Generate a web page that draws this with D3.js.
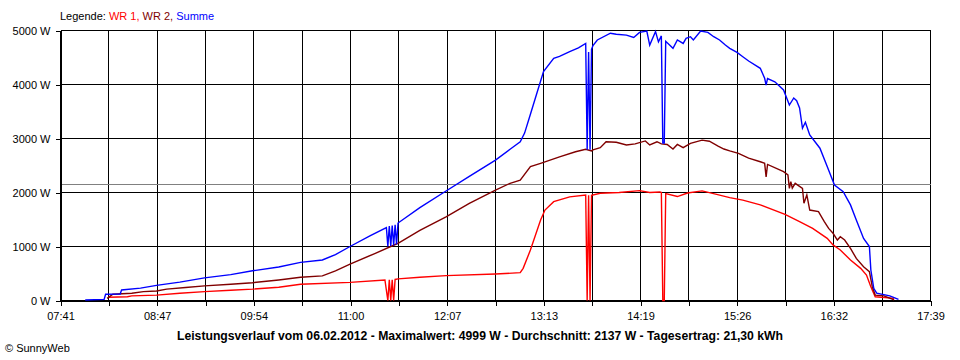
<!DOCTYPE html>
<html><head><meta charset="utf-8">
<script src="https://cdn.jsdelivr.net/npm/d3@7"></script>
<style>
body{margin:0;background:#fff}
svg{display:block}
text{font-family:"Liberation Sans",Arial,sans-serif;font-size:11px;fill:#000}
</style>
</head><body><svg id="c" width="960" height="360"></svg>
<script>
// ---------- data ----------
const timeTickLabels = ["07:41","","08:47","","09:54","","11:00","","12:07","","13:13","","14:19","","15:26","","16:32","","17:39"];
const timeStart = "07:41", timeEnd = "17:39";
const powerTicks = [0,1000,2000,3000,4000,5000];
const powerMax = 5000;
const averagePower = 2137;
const seriesNames = ["WR 1","WR 2","Summe"];
const legendTitle = "Legende: ";
const footerTitle = "Leistungsverlauf vom 06.02.2012 - Maximalwert: 4999 W - Durchschnitt: 2137 W - Tagesertrag: 21,30 kWh";
const copyright = "\u00A9 SunnyWeb";

const wr1 = [
["08:14",60],["08:27",70],["08:30",85],["08:47",100],["09:03",135],["09:20",165],["09:38",190],["09:53",210],["10:11",245],["10:26",300],["11:00",335],["11:24",380],
["11:26",0],["11:27",385],["11:28",0],["11:29",385],["11:30",0],["11:31",390],["11:33",400],
["11:48",430],["12:06",460],["12:40",490],["12:57",515],["12:59",595],["13:04",935],["13:11",1490],["13:14",1675],["13:20",1830],["13:31",1920],["13:42",1955],
["13:43",0],["13:44",1950],["13:45",0],["13:46",1950],["13:52",1985],["14:05",2000],["14:19",2035],["14:26",2000],["14:33",2010],["14:34",2000],
["14:35",0],["14:36",0],["14:37",1980],["14:45",1925],["14:52",1990],["15:02",2030],["15:12",1965],["15:21",1905],["15:30",1860],["15:42",1770],["15:59",1595],["16:09",1460],["16:18",1335],["16:28",1150],["16:32",1030],["16:37",935],["16:44",750],["16:51",595],["16:55",470],["16:58",255],["17:01",70],["17:14",40]
];

const wr2 = [
["08:13",40],["08:17",115],["08:30",135],["08:38",165],["08:47",175],["08:54",210],["09:07",240],["09:20",270],["09:38",300],["09:53",330],["10:11",380],["10:26",430],["10:41",455],["10:50",550],["11:00",675],["11:17",870],["11:33",1060],["11:48",1300],["12:06",1550],["12:22",1800],["12:40",2045],["12:50",2170],["12:57",2230],["13:04",2480],["13:11",2540],["13:24",2660],["13:35",2755],["13:42",2800],["13:46",2770],
["13:47",2790],["13:52",2830],["13:56",2940],["14:03",2930],["14:10",2880],["14:16",2900],["14:23",2955],["14:26",2880],["14:31",2940],["14:34",2900],["14:38",2890],["14:42",2805],["14:45",2890],["14:49",2830],["14:54",2910],["15:02",2970],["15:07",2950],["15:13",2860],["15:17",2805],["15:21",2770],["15:27",2725],["15:34",2635],["15:42",2570],
["15:45",2540],["15:46",2290],["15:47",2520],["15:58",2385],["16:01",2325],["16:02",2075],["16:03",2200],["16:04",2080],["16:06",2170],["16:11",2075],["16:12",1800],["16:14",1955],["16:16",1675],["16:22",1645],["16:26",1460],["16:29",1335],["16:32",1245],["16:35",1120],["16:37",1180],["16:40",1120],["16:44",965],["16:48",780],["16:53",625],["16:57",535],["16:59",255],["17:01",100],["17:07",85],["17:14",10]
];

const summe = [
["07:58",10],["08:11",20],["08:12",115],["08:22",120],["08:23",195],["08:36",230],["08:47",280],["09:03",340],["09:20",420],["09:38",480],["09:53",550],["10:11",620],["10:26",707],["10:41",750],["10:50",850],["11:00",1000],["11:14",1200],["11:25",1350],
["11:26",1000],["11:27",1380],["11:28",1010],["11:29",1390],["11:30",1020],["11:31",1400],["11:32",1040],["11:33",1435],
["11:48",1720],["12:06",2028],["12:22",2300],["12:40",2600],["12:50",2800],["12:57",2940],["13:00",3100],["13:04",3450],["13:08",3800],["13:13",4240],["13:20",4485],["13:24",4520],["13:31",4610],["13:37",4680],["13:42",4760],
["13:43",2790],["13:44",4600],["13:45",2790],["13:46",4650],["13:47",4720],
["13:50",4825],["13:59",4950],["14:03",4930],["14:10",4915],["14:15",4870],["14:19",4965],["14:24",4990],["14:26",4730],["14:30",4980],["14:32",4790],["14:34",4900],
["14:35",2915],["14:36",2915],["14:37",4800],
["14:42",4670],["14:45",4825],["14:49",4760],["14:51",4855],["14:54",4885],["14:56",4825],["15:01",4990],["15:06",4965],["15:10",4885],["15:14",4825],["15:18",4730],["15:21",4670],["15:26",4595],["15:30",4515],["15:34",4435],["15:42",4300],
["15:45",4115],["15:46",3990],["15:47",4110],["15:52",4050],["15:58",3900],["16:02",3620],["16:05",3750],["16:07",3700],["16:09",3565],["16:11",3190],["16:13",3300],["16:16",3065],["16:23",2820],["16:28",2480],["16:33",2140],["16:39",2015],["16:44",1770],["16:48",1490],["16:53",1150],["16:57",1000],["16:58",565],["17:00",225],["17:02",135],["17:11",85],["17:17",20]
];

// ---------- chart ----------
const colors = ["#ff0000","#800000","#0000ff"];
const toMin = s => { const [h,m] = s.split(":").map(Number); return h*60+m; };
const svg = d3.select("#c");
const pLeft = 60.5, pRight = 930.5, pTop = 30.5, pBottom = 300.5;

const x = d3.scaleLinear().domain([toMin(timeStart), toMin(timeEnd)]).range([pLeft, pRight]);
const y = d3.scaleLinear().domain([0, powerMax]).range([pBottom, pTop]);
const n = timeTickLabels.length - 1;
const xTickVals = d3.range(n+1).map(i => toMin(timeStart) + i*(toMin(timeEnd)-toMin(timeStart))/n);

// grid
const grid = svg.append("g").attr("shape-rendering","crispEdges");
grid.selectAll(".vg").data(xTickVals).join("line")
  .attr("x1", d => x(d)).attr("x2", d => x(d)).attr("y1", pTop).attr("y2", pBottom)
  .attr("stroke","#000");
grid.selectAll(".hg").data(powerTicks).join("line")
  .attr("x1", pLeft).attr("x2", pRight).attr("y1", d => y(d)).attr("y2", d => y(d))
  .attr("stroke","#000");

// average line
svg.append("line").attr("shape-rendering","crispEdges")
  .attr("x1", pLeft).attr("x2", pRight)
  .attr("y1", Math.round(y(averagePower))-0.5).attr("y2", Math.round(y(averagePower))-0.5)
  .attr("stroke","#808080");

// axes
const yAxis = d3.axisLeft(y).tickValues(powerTicks).tickSizeInner(5).tickSizeOuter(0).tickPadding(5)
  .tickFormat(d => d + " W");
const gy = svg.append("g").attr("transform",`translate(${pLeft},0)`).call(yAxis);
const xAxis = d3.axisBottom(x).tickValues(xTickVals).tickSizeInner(5).tickSizeOuter(0).tickPadding(7)
  .tickFormat((d,i) => timeTickLabels[i]);
const gx = svg.append("g").attr("transform",`translate(0,${pBottom})`).call(xAxis);
[gx, gy].forEach(g => {
  g.attr("font-family", null).attr("font-size", null).attr("shape-rendering","crispEdges");
  g.selectAll("path,line").attr("stroke","#000");
  g.selectAll("text").attr("fill","#000").style("font-size","11px");
});

// series
const line = d3.line().x(d => x(toMin(d[0]))).y(d => y(d[1]));
[wr1, wr2, summe].forEach((s,i) => {
  svg.append("path").datum(s).attr("d", line)
    .attr("fill","none").attr("stroke", colors[i]).attr("stroke-width",1.4)
    .attr("stroke-linejoin","miter");
});

// legend
const lg = svg.append("text").attr("x", 60).attr("y", 20);
lg.append("tspan").text(legendTitle).attr("fill","#000");
seriesNames.forEach((nm,i) => {
  lg.append("tspan").text(nm + (i < seriesNames.length-1 ? ", " : "")).attr("fill", colors[i]);
});

// footer
svg.append("text").attr("x", 480).attr("y", 340).attr("text-anchor","middle")
  .style("font-weight","bold").style("font-size","12px")
  .attr("textLength", 606).attr("lengthAdjust","spacingAndGlyphs").text(footerTitle);
svg.append("text").attr("x", 5).attr("y", 352).text(copyright);
</script>
</body></html>
